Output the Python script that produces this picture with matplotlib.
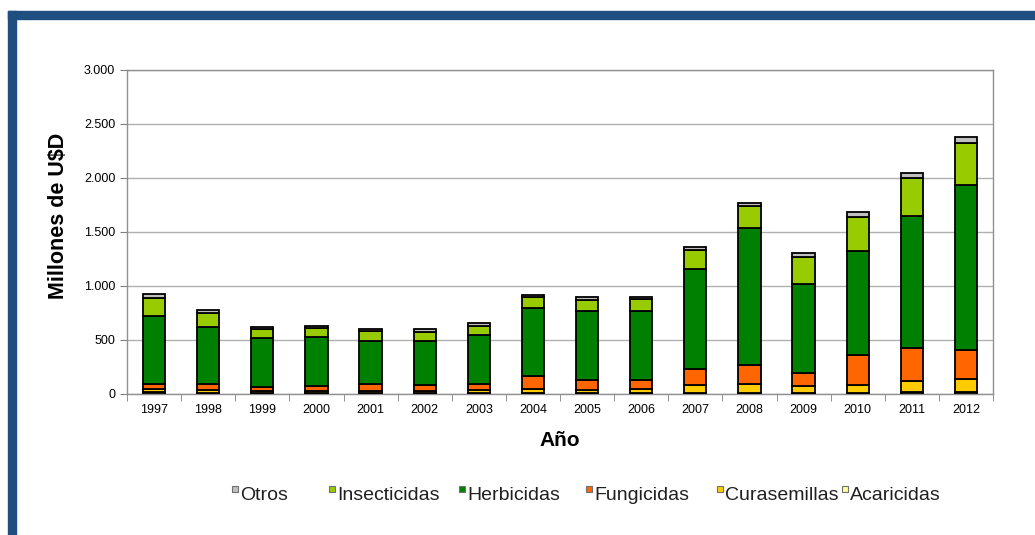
import matplotlib.pyplot as plt
import numpy as np
from matplotlib.patches import Rectangle

plt.rcParams['font.family'] = ['Liberation Sans', 'DejaVu Sans']

# Data (millones de U$D)
years = ['1997', '1998', '1999', '2000', '2001', '2002', '2003', '2004',
         '2005', '2006', '2007', '2008', '2009', '2010', '2011', '2012']
acaricidas = [15, 12, 10, 10, 11, 10, 10, 12, 10, 10, 8, 8, 8, 8, 16, 16]
curasemillas = [28, 25, 18, 18, 20, 18, 27, 31, 27, 33, 72, 82, 69, 75, 107, 120]
fungicidas = [50, 53, 40, 49, 62, 52, 53, 127, 93, 87, 149, 179, 115, 278, 306, 271]
herbicidas = [632, 533, 448, 454, 398, 411, 456, 623, 638, 638, 928, 1271, 827, 966, 1219, 1528]
insecticidas = [161, 130, 83, 77, 92, 86, 87, 102, 105, 112, 176, 204, 253, 315, 349, 386]
otros = [37, 25, 24, 25, 19, 22, 21, 19, 22, 21, 31, 27, 31, 40, 52, 56]

series = [
    ('Acaricidas', acaricidas, '#ffff99'),
    ('Curasemillas', curasemillas, '#ffcc00'),
    ('Fungicidas', fungicidas, '#ff6600'),
    ('Herbicidas', herbicidas, '#008000'),
    ('Insecticidas', insecticidas, '#99cc00'),
    ('Otros', otros, '#c0c0c0'),
]
colors = {name: c for name, _, c in series}

W, H = 1035, 535
fig = plt.figure(figsize=(W / 100, H / 100), dpi=100)

# blue frame on top and left
fig.patches.append(Rectangle((8 / W, 1 - 19 / H), 1, 8 / H,
                             transform=fig.transFigure, color='#1f4e80', zorder=0))
fig.patches.append(Rectangle((8 / W, 0), 8 / W, 1 - 11 / H,
                             transform=fig.transFigure, color='#1f4e80', zorder=0))

ax = fig.add_axes([127 / W, 1 - 394 / H, 866 / W, 324 / H])

x = np.arange(len(years))
bottom = np.zeros(len(years))
for name, vals, color in series:
    vals = np.array(vals)
    ax.bar(x, vals, width=0.41, bottom=bottom, color=color,
           edgecolor='black', linewidth=1.3, label=name, zorder=3)
    bottom += vals

ax.set_xlim(-0.5, len(years) - 0.5)
ax.set_ylim(0, 3000)
ax.set_yticks(np.arange(0, 3001, 500))
ax.set_yticklabels(['0', '500', '1.000', '1.500', '2.000', '2.500', '3.000'], fontsize=9)
ax.set_xticks(x)
ax.set_xticklabels(years, fontsize=9)
ax.set_xticks(np.arange(-0.5, len(years), 1), minor=True)
ax.tick_params(axis='x', which='major', length=0, pad=7.5)
ax.tick_params(axis='x', which='minor', length=5, color='#808080')
ax.tick_params(axis='y', length=5, color='#808080', pad=3.5)
ax.grid(axis='y', color='#b0b0b0', linewidth=1.0, zorder=0)
for s in ax.spines.values():
    s.set_color('#909090')
    s.set_linewidth(1.0)

fig.text(58 / W, 1 - 216 / H, 'Millones de U$D', rotation=90, fontsize=15.5,
         fontweight='bold', ha='center', va='center')
fig.text(560 / W, 1 - 441 / H, 'Año', fontsize=15, fontweight='bold',
         ha='center', va='center')

# legend row, laid out like the original
order = ['Otros', 'Insecticidas', 'Herbicidas', 'Fungicidas', 'Curasemillas', 'Acaricidas']
text_x = [240, 337, 467, 594, 725, 850]
for name, tx in zip(order, text_x):
    fig.patches.append(Rectangle(((tx - 8) / W, 1 - 492 / H), 6 / W, 6 / H,
                                 transform=fig.transFigure, facecolor=colors[name],
                                 edgecolor='#707070', linewidth=0.8))
    fig.text(tx / W, 1 - 500 / H, name, fontsize=14, ha='left', va='baseline',
             color='#202020')

fig.savefig('out.png', dpi=100)
